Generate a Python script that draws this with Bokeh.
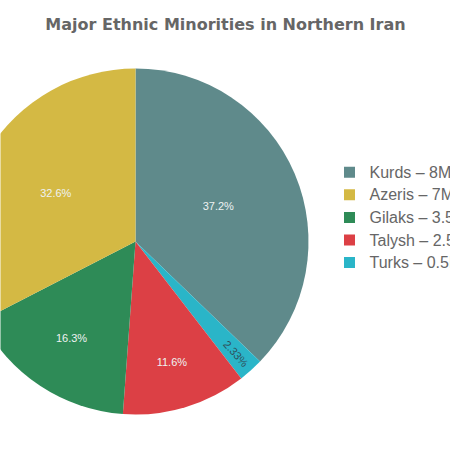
import math
from bokeh.plotting import figure
from bokeh.models import Range1d, ColumnDataSource
from bokeh.core.properties import value
from bokeh.embed import file_html
from bokeh.resources import INLINE

# ---- data ----
categories = ["Kurds", "Azeris", "Gilaks", "Talysh", "Turks"]
populations_m = [8, 7, 3.5, 2.5, 0.5]
legend_labels = ["Kurds – 8M", "Azeris – 7M", "Gilaks – 3.5M", "Talysh – 2.5M", "Turks – 0.5M"]
colors = ["#5f8a8b", "#d4b944", "#2e8b57", "#dc4045", "#2ab5c8"]
# clockwise drawing order starting at 12 o'clock
draw_order = ["Kurds", "Turks", "Talysh", "Gilaks", "Azeris"]

# ---- layout/style (screen-pixel frame) ----
W = H = 450
OFF = 0
CX, CY, R = 135, 241, 173
label_r = {"Kurds": 0.52, "Azeris": 0.54, "Gilaks": 0.67, "Talysh": 0.73, "Turks": 0.87}

p = figure(width=W, height=H, output_backend="svg", toolbar_location=None,
           x_range=Range1d(OFF, OFF + W), y_range=Range1d(-(OFF + H), -OFF),
           min_border=0, outline_line_color=None)
p.axis.visible = False
p.grid.visible = False
p.background_fill_color = "white"

total = sum(populations_m)
idx = {c: i for i, c in enumerate(categories)}

starts, ends, cols = [], [], []
lx, ly, ltxt, lcol, lang = [], [], [], [], []
cum = 0.0
for c in draw_order:
    v = populations_m[idx[c]]
    a0 = cum / total * 360.0
    cum += v
    a1 = cum / total * 360.0
    # convert clockwise-from-top to math angles (ccw from +x)
    starts.append(math.radians(90 - a1))
    ends.append(math.radians(90 - a0))
    cols.append(colors[idx[c]])
    mid = (a0 + a1) / 2
    rr = label_r[c] * R
    lx.append(CX + rr * math.sin(math.radians(mid)))
    ly.append(-(CY - rr * math.cos(math.radians(mid))))
    pct = v / total * 100
    txt = f"{pct:.3g}%"
    ltxt.append(txt)
    small = v / total < 0.05
    lcol.append("#2f4f5a" if small else "#eef2f2")
    lang.append(math.radians(90 - mid) if small else 0.0)

src = ColumnDataSource(dict(start=starts, end=ends, color=cols))
p.wedge(x=CX, y=-CY, radius=R, start_angle="start", end_angle="end",
        fill_color="color", line_color=None, source=src)

lsrc = ColumnDataSource(dict(x=lx, y=ly, text=ltxt, color=lcol, angle=lang))
p.text(x="x", y="y", text="text", angle="angle", text_color="color", source=lsrc,
       text_align="center", text_baseline="middle", text_font_size="11px",
       text_font=value("Liberation Sans"))

# title
p.text(x=[225], y=[-23.5], text=["Major Ethnic Minorities in Northern Iran"],
       text_align="center", text_baseline="middle", text_font_size="16px",
       text_font=value("DejaVu Sans"), text_font_style="bold", text_color="#666666")

# legend
LX0, LY0, LDY = 349, 171.7, 22.6
gy = [-(LY0 + i * LDY) for i in range(len(categories))]
p.rect(x=[LX0] * len(categories), y=gy, width=11, height=11,
       fill_color=colors, line_color=None)
p.text(x=[369] * len(categories), y=gy, text=legend_labels,
       text_align="left", text_baseline="middle", text_font_size="16px",
       text_font=value("Liberation Sans"), text_color="#666666")

open("out.html", "w").write(file_html(p, INLINE))
